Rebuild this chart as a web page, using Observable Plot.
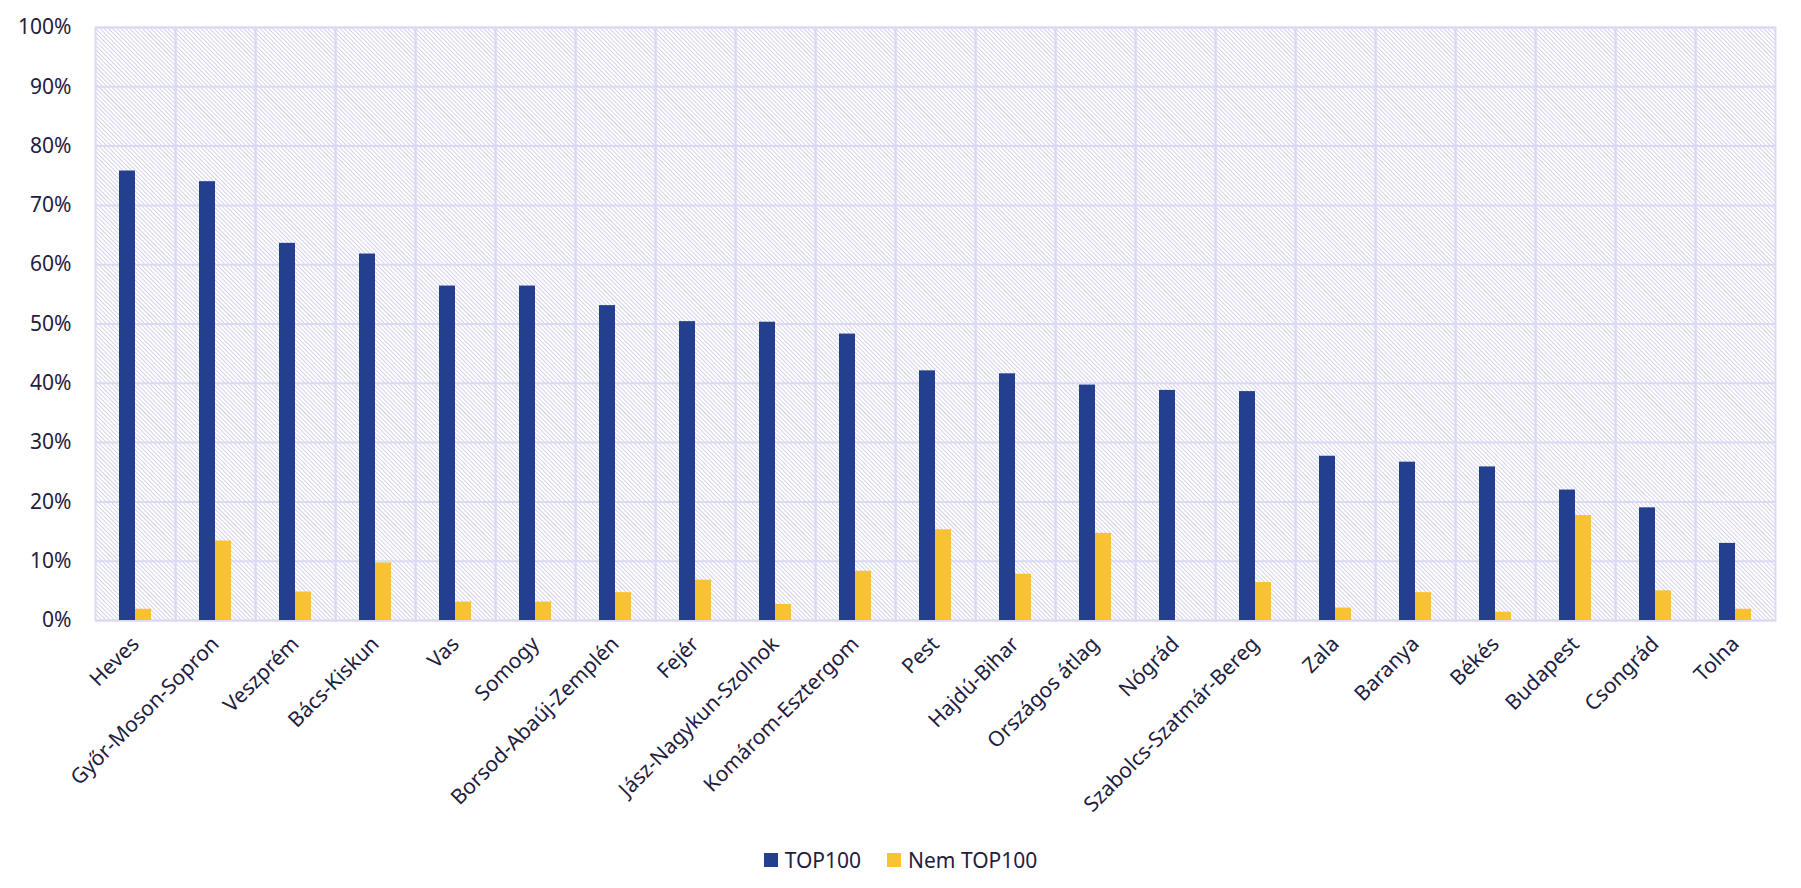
<!DOCTYPE html>
<html>
<head>
<meta charset="utf-8">
<script src="https://cdn.jsdelivr.net/npm/d3@7"></script>
<script src="https://cdn.jsdelivr.net/npm/@observablehq/plot@0.6"></script>
<style>
  html, body { margin: 0; padding: 0; background: #fff; }
  body { width: 1801px; height: 888px; overflow: hidden; font-family: "Noto Sans", sans-serif; color: #1f2040; }
  #legend { display: flex; justify-content: center; align-items: center; gap: 26px; font-size: 21px; height: 40px; margin-top: 18px; }
  #legend .item { display: flex; align-items: center; gap: 7px; }
  #legend .sw { width: 14px; height: 14px; display: inline-block; }
</style>
</head>
<body>
<div id="chart"></div>
<div id="legend"></div>
<script>
const categories = ["Heves", "Győr-Moson-Sopron", "Veszprém", "Bács-Kiskun", "Vas", "Somogy", "Borsod-Abaúj-Zemplén", "Fejér", "Jász-Nagykun-Szolnok", "Komárom-Esztergom", "Pest", "Hajdú-Bihar", "Országos átlag", "Nógrád", "Szabolcs-Szatmár-Bereg", "Zala", "Baranya", "Békés", "Budapest", "Csongrád", "Tolna"];
const seriesNames = ["TOP100", "Nem TOP100"];
const top100 = [0.758, 0.740, 0.636, 0.618, 0.564, 0.564, 0.531, 0.504, 0.503, 0.483, 0.421, 0.416, 0.397, 0.388, 0.386, 0.277, 0.267, 0.259, 0.220, 0.190, 0.130];
const nemTop100 = [0.019, 0.134, 0.048, 0.097, 0.031, 0.031, 0.047, 0.068, 0.027, 0.083, 0.153, 0.078, 0.147, 0.0, 0.064, 0.021, 0.047, 0.014, 0.177, 0.050, 0.019];
const yTicks = [0, 0.1, 0.2, 0.3, 0.4, 0.5, 0.6, 0.7, 0.8, 0.9, 1.0];
const colors = ["#243f8e", "#f8c330"];
const gridColor = "#dcdaf3";

const data = [];
categories.forEach((c, i) => {
  data.push({cat: c, series: seriesNames[0], value: top100[i]});
  data.push({cat: c, series: seriesNames[1], value: nemTop100[i]});
});

const chart = Plot.plot({
  width: 1801,
  height: 822,
  marginTop: 27,
  marginBottom: 202,
  marginLeft: 95,
  marginRight: 26,
  style: {fontFamily: "Noto Sans", fontSize: "21px", color: "#1f2040", background: "#fff"},
  fx: {domain: categories, padding: 0, label: null},
  x: {domain: seriesNames, paddingInner: 0, paddingOuter: 1.353, axis: null},
  y: {domain: [0, 1], label: null},
  color: {domain: seriesNames, range: colors},
  marks: [
    Plot.frame({fill: "#fff", stroke: "none"}),
    Plot.gridY(yTicks, {stroke: gridColor, strokeOpacity: 1, strokeWidth: 2}),
    Plot.frame({stroke: gridColor, strokeOpacity: 1, strokeWidth: 2}),
    Plot.barY(data, {fx: "cat", x: "series", y: "value", fill: "series"}),
    Plot.axisY(yTicks, {tickSize: 0, tickPadding: 24, tickFormat: d3.format(".0%"), label: null}),
    Plot.axisFx({tickRotate: -45, tickSize: 0, tickPadding: 20, label: null, anchor: "bottom"})
  ]
});

const svg = d3.select(chart);
const defs = svg.insert("defs", ":first-child");
const pat = defs.append("pattern")
  .attr("id", "hatch")
  .attr("patternUnits", "userSpaceOnUse")
  .attr("width", 10)
  .attr("height", 3)
  .attr("patternTransform", "rotate(45)");
pat.append("rect").attr("x", 0).attr("y", 0).attr("width", 10).attr("height", 3).attr("fill", "#ffffff");
pat.append("rect").attr("x", 0).attr("y", 0).attr("width", 10).attr("height", 1).attr("fill", "#d3d2ea");
svg.selectAll('g[aria-label="frame"]').filter((d, i) => i === 0).selectAll("rect").attr("fill", "url(#hatch)");

document.getElementById("chart").appendChild(chart);

const legend = d3.select("#legend");
seriesNames.forEach((s, i) => {
  const it = legend.append("div").attr("class", "item");
  it.append("span").attr("class", "sw").style("background", colors[i]);
  it.append("span").text(s);
});
</script>
</body>
</html>
